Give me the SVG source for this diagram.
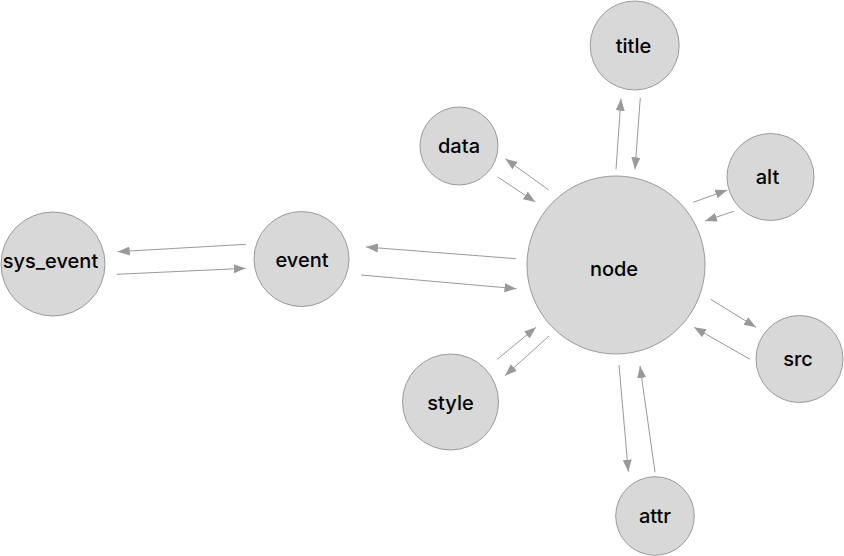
<svg xmlns="http://www.w3.org/2000/svg" width="844" height="556" viewBox="0 0 844 556">
<defs>
<style>
.n{fill:#d8d8d8;stroke:#9a9a9a;stroke-width:1}
.t{font-family:Inter,"Liberation Sans",Arial,sans-serif;font-weight:500;font-size:20px;fill:#000;text-anchor:middle}
.e{stroke:#999;stroke-width:1;fill:none;marker-end:url(#ah)}
</style>
<marker id="ah" markerUnits="userSpaceOnUse" markerWidth="13" markerHeight="10" refX="12" refY="4.5" orient="auto">
<path d="M0,0 L12,4.5 L0,9 z" fill="#999"/>
</marker>
</defs>
<rect width="844" height="556" fill="#fff"/>
<g id="connectors">
<line class="e" x1="246" y1="244.3" x2="117.7" y2="251.7"/>
<line class="e" x1="116.7" y1="274.3" x2="245.7" y2="268.3"/>
<line class="e" x1="516" y1="258.7" x2="366" y2="247"/>
<line class="e" x1="361" y1="275" x2="516.5" y2="288.7"/>
<line class="e" x1="548.7" y1="190" x2="505.3" y2="158.7"/>
<line class="e" x1="497.7" y1="177" x2="535.3" y2="202"/>
<line class="e" x1="616" y1="169.3" x2="621" y2="98.7"/>
<line class="e" x1="640.3" y1="98" x2="635" y2="169.3"/>
<line class="e" x1="693.3" y1="202.3" x2="727.3" y2="190"/>
<line class="e" x1="733.7" y1="211.3" x2="705" y2="221"/>
<line class="e" x1="710.7" y1="299.3" x2="756" y2="327.3"/>
<line class="e" x1="750" y1="359.3" x2="694" y2="327.3"/>
<line class="e" x1="497.3" y1="359.3" x2="536" y2="327.3"/>
<line class="e" x1="549" y1="336" x2="505" y2="375.7"/>
<line class="e" x1="619" y1="365" x2="628.3" y2="471.7"/>
<line class="e" x1="655" y1="472.3" x2="640" y2="366"/>
</g>
<g id="node"><circle class="n" cx="616" cy="265" r="89"/><text class="t" x="614" y="276">node</text></g>
<g id="sys_event"><circle class="n" cx="53" cy="264" r="52"/><text class="t" x="50.5" y="268">sys_event</text></g>
<g id="event"><circle class="n" cx="301.5" cy="259" r="47.5"/><text class="t" x="302" y="266.7">event</text></g>
<g id="title"><circle class="n" cx="634.7" cy="45.5" r="44.5"/><text class="t" x="633.5" y="52.7">title</text></g>
<g id="data"><circle class="n" cx="459" cy="146" r="39"/><text class="t" x="459" y="152.7">data</text></g>
<g id="alt"><circle class="n" cx="770.5" cy="177" r="43.5"/><text class="t" x="767.5" y="184">alt</text></g>
<g id="style"><circle class="n" cx="450.5" cy="402" r="48"/><text class="t" x="450.5" y="410">style</text></g>
<g id="src"><circle class="n" cx="799.5" cy="359" r="43.5"/><text class="t" x="798" y="366">src</text></g>
<g id="attr"><circle class="n" cx="655" cy="516" r="39.3"/><text class="t" x="655" y="523.3">attr</text></g>
</svg>
